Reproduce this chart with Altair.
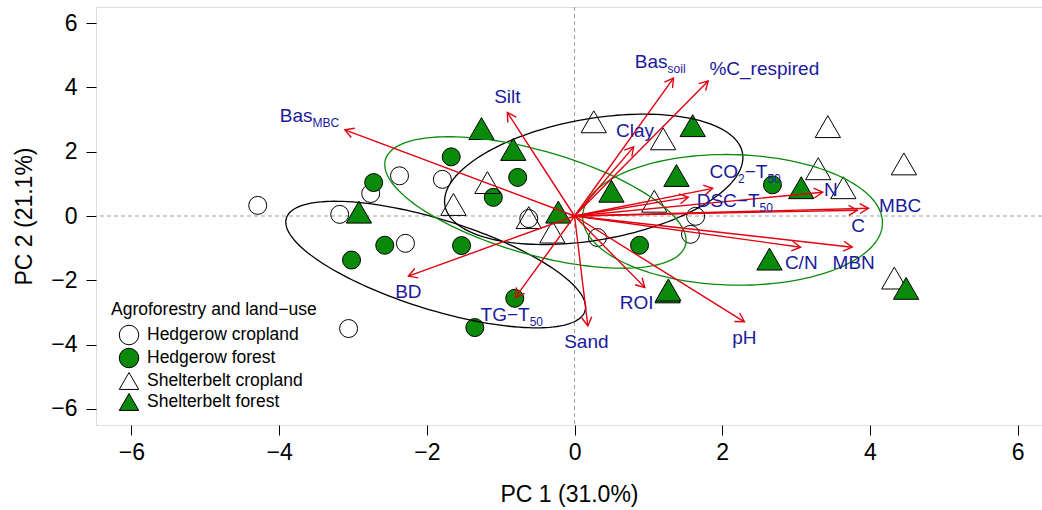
import math
import altair as alt
import pandas as pd

# ------------------------------------------------------------------ data
groups = ["Hedgerow cropland", "Hedgerow forest", "Shelterbelt cropland", "Shelterbelt forest"]

hc_x = [-4.29, -3.18, -2.76, -2.37, -1.79, -2.29, -3.06, -0.62, 0.31, 1.64, 1.57]
hc_y = [0.33, 0.05, 0.70, 1.25, 1.14, -0.85, -3.50, -0.08, -0.67, -0.01, -0.57]
hf_x = [-2.72, -1.67, -0.77, -1.10, -2.57, -3.02, -1.53, -0.81, -1.35, 0.88, 2.68]
hf_y = [1.04, 1.84, 1.20, 0.58, -0.91, -1.37, -0.92, -2.56, -3.47, -0.91, 0.97]
sc_x = [0.26, 1.20, 3.43, 3.30, 3.64, 4.46, 1.08, -1.18, -1.64, -0.62, -0.30, 4.33]
sc_y = [2.93, 2.40, 2.78, 1.47, 0.88, 1.62, 0.46, 1.04, 0.36, -0.05, -0.50, -1.93]
sf_x = [-1.26, -0.83, -2.92, -0.22, 1.60, 1.38, 0.50, 3.07, 2.64, 1.26, 1.27, 4.49]
sf_y = [2.72, 2.07, 0.12, 0.12, 2.81, 1.26, 0.77, 0.88, -1.34, -2.36, -2.30, -2.25]

var_names = ["Bas_MBC", "Silt", "Bas_soil", "%C_respired", "Clay", "CO2-T50", "DSC-T50",
             "N", "MBC", "C", "C/N", "MBN", "ROI", "pH", "Sand", "TG-T50", "BD"]
arrow_x = [-3.11, -0.91, 1.34, 1.81, 0.80, 1.87, 1.54, 3.36, 3.98, 3.83, 3.06, 3.76, 0.95, 2.30, 0.18, -0.80, -2.25]
arrow_y = [2.68, 3.22, 4.29, 4.20, 2.15, 0.86, 0.58, 0.74, 0.24, 0.18, -0.97, -0.97, -2.22, -3.29, -3.42, -2.53, -1.87]
label_x = [-3.59, -0.91, 1.16, 2.57, 0.82, 2.31, 2.17, 3.47, 4.41, 3.84, 3.07, 3.78, 0.84, 2.30, 0.16, -0.85, -2.25]
label_y = [3.15, 3.74, 4.83, 4.60, 2.69, 1.39, 0.49, 0.83, 0.33, -0.29, -1.44, -1.44, -2.67, -3.76, -3.88, -3.05, -2.34]
# label pieces: (text, is_subscript)
label_parts = [
    [("Bas", 0), ("MBC", 1)], [("Silt", 0)], [("Bas", 0), ("soil", 1)], [("%C_respired", 0)],
    [("Clay", 0)], [("CO", 0), ("2", 1), ("\u2212T", 0), ("50", 1)], [("DSC\u2212T", 0), ("50", 1)],
    [("N", 0)], [("MBC", 0)], [("C", 0)], [("C/N", 0)], [("MBN", 0)], [("ROI", 0)], [("pH", 0)],
    [("Sand", 0)], [("TG\u2212T", 0), ("50", 1)], [("BD", 0)],
]

ell_id = ["E1", "E2", "E3", "E4"]
ell_cx = [-1.88, 0.26, -0.53, 2.14]
ell_cy = [-1.51, 1.14, 0.42, -0.12]
ell_rx = [2.03, 2.02, 2.04, 2.03]
ell_ay = [-1.32, 0.68, -1.18, -0.09]
ell_by = [1.46, 1.91, 1.67, 2.03]

x_ticks = [-6, -4, -2, 0, 2, 4, 6]
y_ticks = [-6, -4, -2, 0, 2, 4, 6]

# ------------------------------------------------------------------ style
FONT = "Liberation Sans"
GREEN = "#0a8a0a"
RED = "#e3000f"
BLUE = "#1a1a9c"
W, H = 946, 418
X_DOM = [-6.48, 6.33]
Y_DOM = [-6.5, 6.5]
kx = W / (X_DOM[1] - X_DOM[0])
ky = H / (Y_DOM[1] - Y_DOM[0])
FS_MAIN, FS_SUB = 19, 12

# ------------------------------------------------------------------ tables
rows = []
for g, xs_, ys_ in zip(groups, [hc_x, hf_x, sc_x, sf_x], [hc_y, hf_y, sc_y, sf_y]):
    for a, b in zip(xs_, ys_):
        rows.append({"group": g, "x": a, "y": b})
df_pts = pd.DataFrame(rows)
df_circ = df_pts[df_pts["group"].str.startswith("Hedgerow")]
df_tri = df_pts[df_pts["group"].str.startswith("Shelterbelt")]

df_arr = pd.DataFrame({"name": var_names, "x": arrow_x, "y": arrow_y,
                       "x0": [0.0] * len(var_names), "y0": [0.0] * len(var_names)})
df_arr["ang"] = [math.degrees(math.atan2(-b * ky, a * kx)) % 360 for a, b in zip(arrow_x, arrow_y)]

# glyph advance widths (Arial / Liberation Sans metrics)
ADV = {"B": .667, "a": .556, "s": .5, "M": .833, "C": .722, "S": .667, "i": .222, "l": .222,
       "t": .278, "%": .889, "_": .556, "r": .333, "e": .556, "p": .556, "d": .556, "y": .5,
       "O": .778, "2": .556, "\u2212": .584, "T": .611, "5": .556, "0": .556, "D": .722,
       "N": .722, "/": .278, "R": .722, "I": .278, "H": .722, "n": .556, "G": .778, "o": .556}

def seg_w(txt, sub):
    return sum(ADV.get(c, .556) for c in txt) * (FS_SUB if sub else FS_MAIN)

lab_rows = []
for lx, ly, parts in zip(label_x, label_y, label_parts):
    total = sum(seg_w(t, s) for t, s in parts)
    cur = -total / 2
    for t, s in parts:
        dy = 12 if s else 7
        lab_rows.append({"text": t, "sub": s, "x": lx + cur / kx, "y": ly - dy / ky})
        cur += seg_w(t, s)
df_lab = pd.DataFrame(lab_rows)

ell_rows = []
N = 160
for e, cx, cy, rx, ay, by in zip(ell_id, ell_cx, ell_cy, ell_rx, ell_ay, ell_by):
    for i in range(N + 1):
        t = 2 * math.pi * i / N
        ell_rows.append({"ell": e, "i": i, "x": cx + rx * math.cos(t),
                         "y": cy + ay * math.cos(t) + by * math.sin(t)})
df_ell = pd.DataFrame(ell_rows)

# ------------------------------------------------------------------ chart
xs = alt.Scale(domain=X_DOM, nice=False, zero=False)
ys = alt.Scale(domain=Y_DOM, nice=False, zero=False)

xaxis = alt.Axis(values=x_ticks, format="d", grid=False, domain=False, tickSize=10, tickColor="black",
                 labelFontSize=23, labelColor="black", labelPadding=6, labelFont=FONT,
                 labelFlush=False, titleFontSize=23, titleFontWeight="normal",
                 titleColor="black", titleFont=FONT, titlePadding=19)
yaxis = alt.Axis(values=y_ticks, format="d", grid=False, domain=False, tickSize=10, tickColor="black",
                 labelFontSize=23, labelColor="black", labelPadding=9, labelFont=FONT,
                 labelFlush=False, titleFontSize=23, titleFontWeight="normal",
                 titleColor="black", titleFont=FONT, titlePadding=14)

legend = alt.Legend(orient="none", legendX=15, legendY=294, title="Agroforestry and land\u2212use",
                    titleFontSize=17.5, labelFontSize=17.5, titleFontWeight="normal",
                    titleFont=FONT, labelFont=FONT, titleColor="black", labelColor="black",
                    titleLimit=0, symbolSize=380, symbolStrokeColor="black", symbolStrokeWidth=1,
                    symbolOffset=7.5, labelOffset=7.5, titlePadding=6, rowPadding=-2.5,
                    padding=0, labelLimit=0)

fill_enc = alt.Fill("group:N", scale=alt.Scale(domain=groups,
                    range=["transparent", GREEN, "transparent", GREEN]), legend=legend)
shape_enc = alt.Shape("group:N", scale=alt.Scale(domain=groups,
                      range=["circle", "circle", "triangle-up", "triangle-up"]), legend=legend)
stroke_enc = alt.Stroke("group:N", scale=alt.Scale(domain=groups,
                        range=["black", "black", "black", "black"]), legend=legend)

zero_v = alt.Chart(pd.DataFrame({"x": [0.0]})).mark_rule(
    color="#a0a0a0", strokeDash=[4, 3], strokeWidth=1).encode(x=alt.X("x:Q", scale=xs))
zero_h = alt.Chart(pd.DataFrame({"y": [0.0]})).mark_rule(
    color="#a0a0a0", strokeDash=[4, 3], strokeWidth=1).encode(y=alt.Y("y:Q", scale=ys))

circ = alt.Chart(df_circ).mark_point(filled=True, strokeWidth=1, opacity=1, size=324).encode(
    x=alt.X("x:Q", scale=xs, axis=xaxis, title="PC 1 (31.0%)"),
    y=alt.Y("y:Q", scale=ys, axis=yaxis, title="PC 2 (21.1%)"),
    fill=fill_enc, shape=shape_enc, stroke=stroke_enc)
tri = alt.Chart(df_tri).mark_point(filled=True, strokeWidth=1, opacity=1, size=640).encode(
    x=alt.X("x:Q", scale=xs), y=alt.Y("y:Q", scale=ys),
    fill=fill_enc, shape=shape_enc, stroke=stroke_enc)

ells = alt.Chart(df_ell).mark_line(strokeWidth=1.3).encode(
    x=alt.X("x:Q", scale=xs), y=alt.Y("y:Q", scale=ys), order="i:Q", detail="ell:N",
    color=alt.Color("ell:N", scale=alt.Scale(domain=ell_id, range=["black", "black", GREEN, GREEN]),
                    legend=None),
)

shafts = alt.Chart(df_arr).mark_rule(color=RED, strokeWidth=1.4).encode(
    x=alt.X("x0:Q", scale=xs), y=alt.Y("y0:Q", scale=ys), x2="x:Q", y2="y:Q")

heads = alt.Chart(df_arr).mark_point(
    shape="M -0.866 -0.5 L 0 0 L -0.866 0.5", size=400, filled=False, color=RED,
    strokeWidth=1.4, opacity=1).encode(
    x=alt.X("x:Q", scale=xs), y=alt.Y("y:Q", scale=ys), angle=alt.Angle("ang:Q", scale=None))

lab_main = alt.Chart(df_lab[df_lab["sub"] == 0]).mark_text(
    align="left", baseline="alphabetic", font=FONT, fontSize=FS_MAIN, color=BLUE).encode(
    x=alt.X("x:Q", scale=xs), y=alt.Y("y:Q", scale=ys), text="text:N")
lab_sub = alt.Chart(df_lab[df_lab["sub"] == 1]).mark_text(
    align="left", baseline="alphabetic", font=FONT, fontSize=FS_SUB, color=BLUE).encode(
    x=alt.X("x:Q", scale=xs), y=alt.Y("y:Q", scale=ys), text="text:N")

chart = alt.layer(zero_v, zero_h, circ, tri, ells, shafts, heads, lab_main, lab_sub).properties(
    width=W, height=H,
    autosize=alt.AutoSizeParams(type="none"),
    padding={"left": 96, "top": 7, "right": 0, "bottom": 85},
).configure_view(stroke="black", strokeWidth=1).configure(background="white")

chart.save("out.html", embed_options={"renderer": "svg", "actions": False})
